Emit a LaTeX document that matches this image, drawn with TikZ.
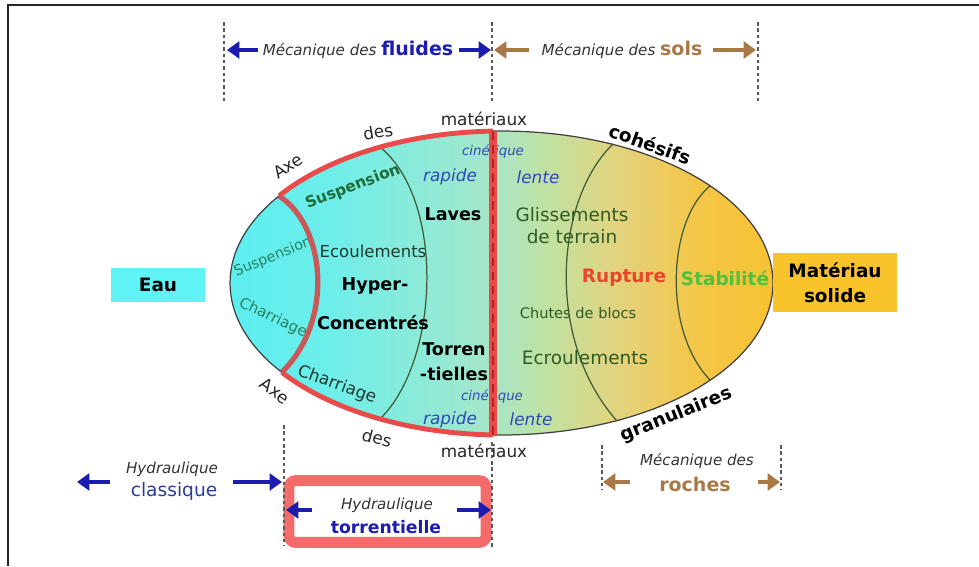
\documentclass[tikz,border=0pt]{standalone}
\usepackage{fontspec}
\setmainfont{DejaVu Sans}
\usepackage{xcolor}
\usetikzlibrary{arrows.meta}

\definecolor{axegray}{HTML}{262626}
\definecolor{mecagray}{HTML}{333333}
\definecolor{fluidblue}{HTML}{1C1CB0}
\definecolor{classblue}{HTML}{2B3A9E}
\definecolor{solbrown}{HTML}{A87845}
\definecolor{cinblue}{HTML}{3046B8}
\definecolor{zonegreen}{HTML}{2F5A22}
\definecolor{susgreen}{HTML}{1F6B3A}
\definecolor{sideteal}{HTML}{2A7F5F}
\definecolor{ecoucolor}{HTML}{203A30}
\definecolor{rupred}{HTML}{E8452B}
\definecolor{stabgreen}{HTML}{4CC23E}
\definecolor{axered}{HTML}{E94B4B}
\definecolor{darkred}{HTML}{B52222}
\definecolor{innerred}{HTML}{C95858}
\definecolor{boxpink}{HTML}{F36B6B}
\definecolor{eaucyan}{HTML}{5FF3F5}
\definecolor{solidorange}{HTML}{F8C32B}
\definecolor{linegreen}{HTML}{3E5B34}
\definecolor{shA}{HTML}{5CEEF0}
\definecolor{shB}{HTML}{6DEEEA}
\definecolor{shC}{HTML}{8EEAD8}
\definecolor{shD}{HTML}{A6E6C8}
\definecolor{shE}{HTML}{C0E2A4}
\definecolor{shF}{HTML}{E4D27C}
\definecolor{shG}{HTML}{F4C648}
\definecolor{shH}{HTML}{F8C232}

\pgfdeclarehorizontalshading{bodyshade}{100bp}{color(0bp)=(shA); color(25bp)=(shA); color(34bp)=(shB); color(43bp)=(shC); color(49bp)=(shD); color(54bp)=(shE); color(61bp)=(shF); color(68bp)=(shG); color(75bp)=(shH); color(100bp)=(shH)}

\begin{document}
\begin{tikzpicture}[x=0.02cm, y=-0.02cm]
\tikzset{every node/.style={inner sep=0pt}}
\tikzset{axetext/.style={text=axegray, font=\fontsize{9.6}{11}\selectfont}}
\tikzset{kindtext/.style={font=\bfseries\fontsize{10.5}{12}\selectfont}}
\tikzset{speedtext/.style={text=cinblue, font=\itshape\fontsize{9.6}{11}\selectfont}}
\tikzset{flowtext/.style={font=\bfseries\fontsize{10}{14.2}\selectfont, align=center}}
\tikzset{movetext/.style={text=zonegreen, font=\fontsize{10.5}{12.5}\selectfont, align=center}}
\tikzset{meca/.style={text=mecagray, font=\itshape\fontsize{8.6}{10}\selectfont}}
\tikzset{bluearrow/.style={fluidblue, line width=2.6pt, -{Triangle[length=7pt,width=9.5pt]}}}
\tikzset{brownarrow/.style={solbrown, line width=2.6pt, -{Triangle[length=7pt,width=9.5pt]}}}
\tikzset{guide/.style={gray!70!black, line width=0.6pt, dash pattern=on 2pt off 1.6pt}}
\tikzset{zoneline/.style={linegreen, line width=0.7pt}}
\tikzset{axeline/.style={axered, line width=2.8pt}}

\useasboundingbox (0,0) rectangle (979,566);
\draw[line width=1.6pt, black!85] (8,566) -- (8,5) -- (979,5);

\shade[shading=bodyshade] (501.5,283) ellipse [x radius=5.43cm, y radius=3.04cm];
\draw[line width=0.7pt, black!75] (501.5,283) ellipse [x radius=5.43cm, y radius=3.04cm];

\coordinate (susp-t) at (380,147);
\coordinate (susp-b) at (380,419);
\coordinate (glis-t) at (613,144);
\coordinate (glis-b) at (617,421);
\coordinate (stab-t) at (710,186);
\coordinate (stab-b) at (710,380);
\draw[zoneline] (susp-t) .. controls (445,200) and (440,360) .. (susp-b);
\draw[zoneline] (glis-t) .. controls (555,200) and (545,340) .. (glis-b);
\draw[zoneline] (stab-t) .. controls (668,220) and (662,330) .. (stab-b);

\node[speedtext, font=\itshape\fontsize{7.6}{9}\selectfont] (cin1) at (493,152) {cinétique};
\node[speedtext] (rap1) at (450,177) {rapide};
\node[speedtext] (len1) at (538,177) {lente};
\node[speedtext, font=\itshape\fontsize{7.6}{9}\selectfont] (cin2) at (492,397) {cinétique};
\node[speedtext] (rap2) at (450,420) {rapide};
\node[speedtext] (len2) at (531,419) {lente};

\node[text=sideteal, font=\fontsize{8.2}{10}\selectfont, rotate=22] (susp1) at (273,257) {Suspension};
\node[text=sideteal, font=\fontsize{8.5}{10}\selectfont, rotate=-25] (char1) at (273,318) {Charriage};
\node[text=susgreen, font=\bfseries\fontsize{8.8}{10}\selectfont, rotate=21] (susp2) at (353,187) {Suspension};
\node[text=ecoucolor, font=\fontsize{9.6}{11}\selectfont, rotate=-20] (char2) at (337,385) {Charriage};
\node[text=ecoucolor, font=\fontsize{9.4}{11}\selectfont] (ecou) at (373,251) {Ecoulements};
\node[flowtext] (hyper) at (375,286) {Hyper-};
\node[flowtext] (conc) at (373,323) {Concentrés};
\node[flowtext] (laves) at (453,214) {Laves};
\node[flowtext] (torr) at (454,362) {Torren\\-tielles};

\node[movetext] (gliss) at (572,226) {Glissements\\de terrain};
\node[text=zonegreen, font=\fontsize{8.3}{10}\selectfont] (chutes) at (578,313) {Chutes de blocs};
\node[movetext] (ecrou) at (585,358) {Ecroulements};
\node[kindtext, text=rupred] (rupt) at (624,278) {Rupture};
\node[kindtext, text=stabgreen] (stab) at (725,278) {Stabilité};

\draw[axeline] plot[domain=215:268.2, samples=40] ({501.5+271.5*cos(\x)},{283+152*sin(\x)});
\draw[axeline] plot[domain=91.8:144, samples=40] ({501.5+271.5*cos(\x)},{283+152*sin(\x)});
\draw[line width=3pt, innerred] (279,196) .. controls (325,225) and (335,320) .. (282,372);
\coordinate (axe-t) at (493,131);
\coordinate (axe-b) at (493,436);
\draw[line width=4pt, axered] (axe-t) -- (axe-b);
\draw[darkred, line width=1.4pt, dash pattern=on 5pt off 3pt] (axe-t) -- (axe-b);

\node[axetext, rotate=33] (axe1) at (288,166) {Axe};
\node[axetext, rotate=10] (des1) at (378,132) {des};
\node[axetext] (mat1) at (484,119) {matériaux};
\node[axetext, rotate=-35] (axe2) at (275,391) {Axe};
\node[axetext, rotate=-15] (des2) at (377,438) {des};
\node[axetext] (mat2) at (484,451) {matériaux};
\node[kindtext, rotate=-20] (coh) at (650,144) {cohésifs};
\node[kindtext, rotate=22] (gran) at (676,415) {granulaires};

\node[fill=eaucyan, minimum width=53.3pt, minimum height=19.8pt, font=\bfseries\fontsize{10.5}{12}\selectfont] (eau) at (158,285) {Eau};
\node[fill=solidorange, minimum width=70.3pt, minimum height=33.5pt, align=center, font=\bfseries\fontsize{10.5}{14}\selectfont] (solide) at (835,282.5) {Matériau\\solide};

\coordinate (g1-t) at (224,22);
\coordinate (g1-b) at (224,104);
\coordinate (g2-t) at (492,22);
\coordinate (g2-b) at (492,104);
\coordinate (g3-t) at (758,22);
\coordinate (g3-b) at (758,104);
\draw[guide] (g1-t) -- (g1-b);
\draw[guide] (g2-t) -- (g2-b);
\draw[guide] (g3-t) -- (g3-b);
\node[meca] (mfl) at (358,50) {Mécanique des {\bfseries\upshape\fontsize{10.8}{12}\selectfont\color{fluidblue}fluides}};
\node[meca] (mso) at (622,50) {Mécanique des {\bfseries\upshape\fontsize{10.8}{12}\selectfont\color{solbrown}sols}};
\coordinate (fl-a) at (258,50);
\coordinate (fl-b) at (227,50);
\coordinate (fl-c) at (459,50);
\coordinate (fl-d) at (491,50);
\coordinate (so-a) at (529,50);
\coordinate (so-b) at (494,50);
\coordinate (so-c) at (713,50);
\coordinate (so-d) at (756,50);
\draw[bluearrow] (fl-a) -- (fl-b);
\draw[bluearrow] (fl-c) -- (fl-d);
\draw[brownarrow] (so-a) -- (so-b);
\draw[brownarrow] (so-c) -- (so-d);

\node[meca] (hyd1) at (172,469) {Hydraulique};
\node[text=classblue, font=\fontsize{10.6}{12}\selectfont] (class) at (174,491) {classique};
\coordinate (cl-a) at (110,482);
\coordinate (cl-b) at (77,482);
\coordinate (cl-c) at (233,482);
\coordinate (cl-d) at (282,482);
\draw[bluearrow] (cl-a) -- (cl-b);
\draw[bluearrow] (cl-c) -- (cl-d);

\node[draw=boxpink, fill=white, line width=6.2pt, rounded corners=4pt, minimum width=112.3pt, minimum height=35.2pt] (torbox) at (387.5,511.5) {};
\node[meca] (hyd2) at (387,505) {Hydraulique};
\node[text=fluidblue, font=\bfseries\fontsize{9.8}{11}\selectfont] (torrent) at (386,527) {torrentielle};
\coordinate (tb-a) at (312,510);
\coordinate (tb-b) at (286,510);
\coordinate (tb-c) at (457,510);
\coordinate (tb-d) at (491,510);
\draw[bluearrow] (tb-a) -- (tb-b);
\draw[bluearrow] (tb-c) -- (tb-d);
\coordinate (g4-t) at (284,425);
\coordinate (g4-b) at (284,546);
\coordinate (g5-t) at (492,442);
\coordinate (g5-b) at (492,548);
\draw[guide] (g4-t) -- (g4-b);
\draw[guide] (g5-t) -- (g5-b);

\coordinate (g6-t) at (602,445);
\coordinate (g6-b) at (602,490);
\coordinate (g7-t) at (781,445);
\coordinate (g7-b) at (781,490);
\draw[guide] (g6-t) -- (g6-b);
\draw[guide] (g7-t) -- (g7-b);
\node[meca] (mro) at (697,461) {Mécanique des};
\node[text=solbrown, font=\bfseries\fontsize{10.8}{12}\selectfont] (roches) at (695,484) {roches};
\coordinate (ro-a) at (630,482);
\coordinate (ro-b) at (603,482);
\coordinate (ro-c) at (758,482);
\coordinate (ro-d) at (780,482);
\draw[brownarrow] (ro-a) -- (ro-b);
\draw[brownarrow] (ro-c) -- (ro-d);
\end{tikzpicture}
\end{document}
